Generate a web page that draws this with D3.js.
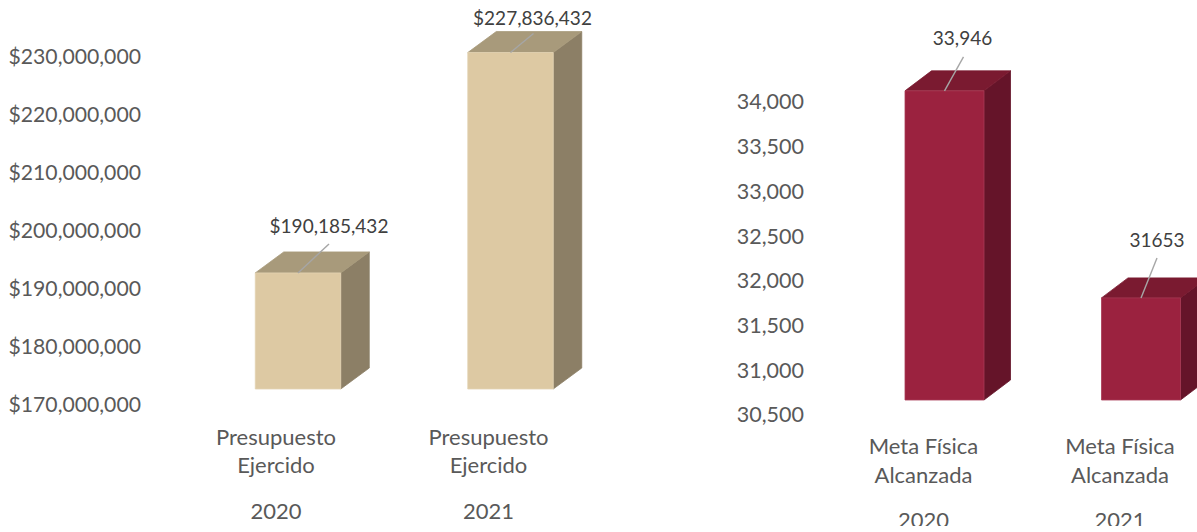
<!DOCTYPE html>
<html><head><meta charset="utf-8">
<script src="https://cdnjs.cloudflare.com/ajax/libs/d3/7.8.5/d3.min.js"></script>
<style>html,body{margin:0;background:#fff}svg{display:block}text{font-family:Lato,"Open Sans",sans-serif}</style>
</head><body><svg id="c" width="1197" height="532"></svg>
<script>
const budgetYears = ["2020", "2021"];
const budgetCategory = ["Presupuesto", "Ejercido"];
const budgetValues = [190185432, 227836432];
const budgetLabels = ["$190,185,432", "$227,836,432"];
const budgetTicks = [170e6, 180e6, 190e6, 200e6, 210e6, 220e6, 230e6];
const goalYears = ["2020", "2021"];
const goalCategory = ["Meta Física", "Alcanzada"];
const goalValues = [33946, 31653];
const goalLabels = ["33,946", "31653"];
const goalTicks = [30500, 31000, 31500, 32000, 32500, 33000, 33500, 34000];

const svg = d3.select("#c");
const TXT = "#595959", LBL = "#404040", LEAD = "#a6a6a6";
svg.append("defs").append("clipPath").attr("id","pg").append("rect").attr("width",1197).attr("height",526);

function panel(o){
  const y = d3.scaleLinear().domain(o.domain).range(o.yRange);
  const x = d3.scalePoint().domain(o.years).range(o.xCenters);
  const g = svg.append("g").attr("clip-path","url(#pg)");
  const ax = g.append("g").attr("transform",`translate(${o.axisX},${o.tickDy})`)
    .call(d3.axisLeft(y).tickValues(o.ticks).tickSize(0).tickPadding(0).tickFormat(o.fmt));
  ax.select(".domain").remove();
  ax.selectAll("text").attr("fill",TXT).style("font-size",o.tickFs+"px").style("font-family","Lato");
  const floor = y(o.domain[0]);
  o.years.forEach((yr,i)=>{
    const cx = x(yr), l = cx-o.bw/2, r = cx+o.bw/2, t = y(o.values[i])+o.topAdj[i];
    const b = g.append("g");
    const poly = (pts,fill,st)=>b.append("polygon").attr("points",pts.map(p=>p.join(",")).join(" "))
      .attr("fill",fill).attr("stroke",st).attr("stroke-width",0.8).attr("stroke-linejoin","round");
    poly([[r,t],[r+o.dx,t-o.dy],[r+o.dx,floor-o.dy],[r,floor]],o.side,o.side);
    poly([[l,t],[l+o.dx,t-o.dy],[r+o.dx,t-o.dy],[r,t]],o.top,o.top);
    poly([[l,t],[r,t],[r,floor],[l,floor]],o.front,o.edge);
    b.append("line").attr("x1",cx).attr("y1",t).attr("x2",cx+o.lead[i][0]).attr("y2",t+o.lead[i][1])
      .attr("stroke",LEAD).attr("stroke-width",1.4);
    b.append("text").attr("x",cx+o.labelDx[i]).attr("y",t+o.labelDy[i]).attr("text-anchor","middle")
      .attr("fill",LBL).style("font-size",o.labelFs+"px").text(o.labels[i]);
    const lab = (s,yy)=>g.append("text").attr("x",cx+o.catDx).attr("y",yy).attr("text-anchor","middle")
      .attr("fill",TXT).style("font-size",o.catFs+"px").text(s);
    lab(o.category[0],o.catY[0]);
    lab(o.category[1],o.catY[1]);
    lab(yr,o.catY[2]);
  });
}
panel({years:budgetYears,category:budgetCategory,values:budgetValues,labels:budgetLabels,ticks:budgetTicks,
  domain:[170e6,230e6],yRange:[389,41],xCenters:[298,510.5],bw:85.5,dx:28.5,dy:21,axisX:141,tickDy:16,topAdj:[1,-1],
  fmt:d3.format("$,.0f"),tickFs:21.2,labelFs:19,catFs:22,
  front:"#ddc9a3",top:"#a89a7b",side:"#8c7f66",edge:"#e3d3b4",
  lead:[[31,-29],[23,-19]],labelDx:[31,22],labelDy:[-40,-28],catDx:-22,catY:[444.5,472.5,519]});
panel({years:goalYears,category:goalCategory,values:goalValues,labels:goalLabels,ticks:goalTicks,
  domain:[30500,34000],yRange:[400,87],xCenters:[944.5,1141],bw:79,dx:26.5,dy:20,axisX:804,tickDy:15,topAdj:[-1,1],
  fmt:d3.format(",.0f"),tickFs:21.5,labelFs:19,catFs:22,
  front:"#9b223f",top:"#7a1a30",side:"#651429",edge:"#a83a55",
  lead:[[19,-34],[16,-40]],labelDx:[18,16],labelDy:[-46,-51],catDx:-21,catY:[453.5,482.5,528]});
</script></body></html>
